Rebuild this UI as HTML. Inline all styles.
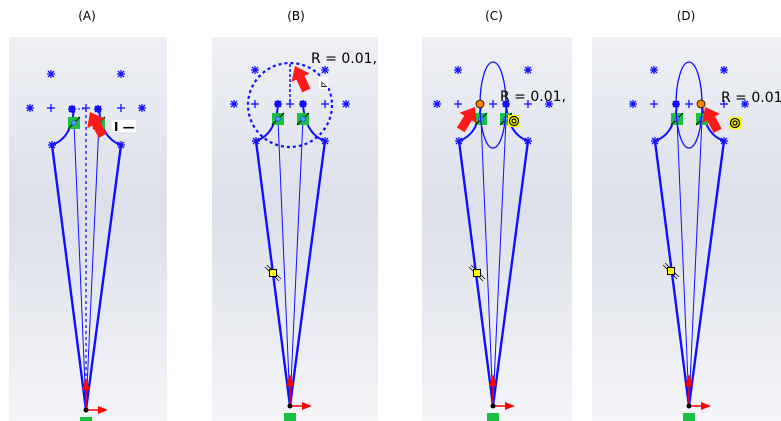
<!DOCTYPE html>
<html><head><meta charset="utf-8"><style>
html,body{margin:0;padding:0;background:#fff;width:781px;height:421px;overflow:hidden}
svg{display:block}
text{font-family:"DejaVu Sans","Liberation Sans",sans-serif}
</style></head><body>
<svg width="781" height="421" viewBox="0 0 781 421" xmlns="http://www.w3.org/2000/svg">
<defs>
<linearGradient id="bg" x1="0" y1="0" x2="0" y2="1">
<stop offset="0" stop-color="#eef0f5"/><stop offset="0.45" stop-color="#dde0ea"/><stop offset="1" stop-color="#f4f5f8"/>
</linearGradient>
<g id="star" stroke="#1010ff" stroke-width="1.3"><line x1="-4" y1="0" x2="4" y2="0"/><line x1="0" y1="-4" x2="0" y2="4"/><line x1="-3" y1="-3" x2="3" y2="3"/><line x1="-3" y1="3" x2="3" y2="-3"/></g>
<g id="plus" stroke="#1010ff" stroke-width="1.3"><line x1="-4" y1="0" x2="4" y2="0"/><line x1="0" y1="-4" x2="0" y2="4"/></g>
<g id="dot"><circle r="3.5" fill="#1010ff"/><use href="#star"/></g>
<g id="green"><rect x="-6" y="-6" width="12" height="12" fill="#1bc040"/><line x1="-6" y1="6" x2="6" y2="-6" stroke="#000" stroke-width="1"/><circle r="2.3" fill="#5aa0ff" stroke="#2050ff" stroke-width="0.8"/></g>
<g id="red"><polygon points="0,0 13,-10 13,-4.5 27,-4.5 27,4.5 13,4.5 13,10" fill="#ff1a1a"/></g>
<g id="yel"><line x1="-8" y1="-6" x2="6" y2="8" stroke="#000" stroke-width="0.8"/><line x1="-6" y1="-8" x2="8" y2="6" stroke="#000" stroke-width="0.8"/><rect x="-3.5" y="-3.5" width="7" height="7" fill="#ffff00" stroke="#000" stroke-width="1"/></g>
<g id="tgt"><rect x="-6" y="-6" width="12" height="12" fill="#ffff00"/><circle r="4.5" fill="none" stroke="#000" stroke-width="1.2"/><circle r="2" fill="none" stroke="#000" stroke-width="1.2"/></g>
<g id="base">
 <use href="#star" x="-35" y="70"/><use href="#star" x="35" y="70"/>
 <use href="#star" x="-56" y="104"/><use href="#star" x="56" y="104"/>
 <use href="#plus" x="-35" y="104"/><use href="#plus" x="0" y="104"/><use href="#plus" x="35" y="104"/>
 <g fill="none" stroke="#1010ff">
  <path d="M-34,141 Q-14,134 -12,104" stroke-width="2"/>
  <path d="M35,141 Q15,134 13,104" stroke-width="2"/>
  <line x1="-34" y1="141" x2="0" y2="406" stroke-width="2.4"/>
  <line x1="35" y1="141" x2="0" y2="406" stroke-width="2.4"/>
  <line x1="-12" y1="119" x2="0" y2="406" stroke-width="1"/>
  <line x1="13" y1="119" x2="0" y2="406" stroke-width="1"/>
 </g>
 <use href="#star" x="-34" y="141"/><use href="#star" x="35" y="141"/>
 <use href="#green" x="-12" y="119"/><use href="#green" x="13" y="119"/>
 <line x1="0" y1="406" x2="0" y2="376" stroke="#ff0000" stroke-width="1.5"/>
 <polygon points="0,374 -4,386 4,386" fill="#ff0000"/>
 <line x1="0" y1="406" x2="14" y2="406" stroke="#ff0000" stroke-width="1.5"/>
 <polygon points="22,406 12,402 12,410" fill="#ff0000"/>
 <circle cx="0" cy="406" r="2.5" fill="#000"/>
 <rect x="-6" y="413" width="12" height="10" fill="#1bc040"/>
</g>
</defs>

<text x="87" y="20" font-size="12" text-anchor="middle">(A)</text>
<text x="296" y="20" font-size="12" text-anchor="middle">(B)</text>
<text x="494" y="20" font-size="12" text-anchor="middle">(C)</text>
<text x="686" y="20" font-size="12" text-anchor="middle">(D)</text>

<rect x="9" y="37" width="158" height="384" fill="url(#bg)"/>
<rect x="212" y="37" width="166" height="384" fill="url(#bg)"/>
<rect x="422" y="37" width="150" height="384" fill="url(#bg)"/>
<rect x="592" y="37" width="189" height="384" fill="url(#bg)"/>

<!-- A -->
<g transform="translate(86,4)">
 <line x1="0" y1="105" x2="0" y2="406" stroke="#1010ff" stroke-width="1.3" stroke-dasharray="3,3"/>
 <line x1="-8" y1="105" x2="0" y2="105" stroke="#1010ff" stroke-width="1" stroke-dasharray="2,2"/>
 <use href="#base"/>
 <use href="#dot" x="-14" y="105"/><use href="#dot" x="12" y="105"/>
</g>
<use href="#red" transform="translate(90,112) rotate(62)"/>
<rect x="112" y="120" width="24" height="12" fill="#fff"/>
<text x="114" y="131" font-size="12" font-weight="bold">I —</text>

<!-- B -->
<g transform="translate(290,0)">
 <use href="#base"/>
 <circle cx="0" cy="105" r="42" fill="none" stroke="#1010ff" stroke-width="2.2" stroke-dasharray="3,3"/>
 <line x1="0" y1="64" x2="0" y2="104" stroke="#1010ff" stroke-width="1.5" stroke-dasharray="3,2"/>
 <use href="#dot" x="-12" y="104"/><use href="#dot" x="13" y="104"/>
 <use href="#yel" x="-17" y="273"/>
</g>
<use href="#red" transform="translate(295,66) rotate(65)"/>
<text x="311" y="63" font-size="14">R = 0.01,</text>
<rect x="319" y="77" width="9" height="12" fill="#fff"/>
<text x="320" y="87" font-size="10">⊾</text>

<!-- C -->
<g transform="translate(493,0)">
 <use href="#base"/>
 <ellipse cx="0" cy="105" rx="13" ry="43" fill="none" stroke="#1010ff" stroke-width="1.3"/>
 <circle cx="-13" cy="104" r="4" fill="#ff8000" stroke="#000" stroke-width="0.8"/>
 <use href="#dot" x="13" y="104"/>
 <use href="#yel" x="-16" y="273"/>
 <use href="#tgt" x="21" y="121"/>
</g>
<use href="#red" transform="translate(475,107) rotate(122)"/>
<text x="500" y="101" font-size="14">R = 0.01,</text>

<!-- D -->
<g transform="translate(689,0)">
 <use href="#base"/>
 <ellipse cx="0" cy="105" rx="13" ry="43" fill="none" stroke="#1010ff" stroke-width="1.3"/>
 <use href="#dot" x="-13" y="104"/>
 <circle cx="12" cy="104" r="4" fill="#ff8000" stroke="#000" stroke-width="0.8"/>
 <use href="#yel" x="-18" y="271"/>
 <use href="#tgt" x="46" y="123"/>
</g>
<use href="#red" transform="translate(705,107) rotate(62)"/>
<text x="721" y="102" font-size="14">R = 0.01</text>
</svg>
</body></html>
